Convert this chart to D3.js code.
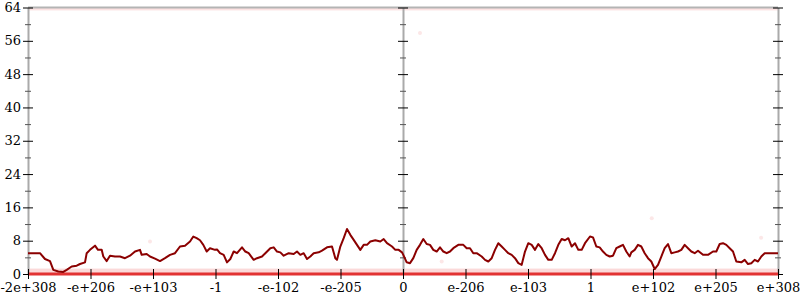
<!DOCTYPE html>
<html lang="en">
<head>
<meta charset="utf-8">
<title>Float histogram</title>
<script src="https://cdn.jsdelivr.net/npm/d3@7"></script>
<style>
  body { margin: 0; background: #fff; }
  svg text { font-family: "DejaVu Serif", serif; font-size: 13px; fill: #000; }
</style>
</head>
<body>
<div id="chart"></div>
<script>
// tick labels along the x axis (13 evenly spaced positions, index 0..12)
var xLabels = ["-2e+308", "-e+206", "-e+103", "-1", "-e-102", "-e-205", "0",
               "e-206", "e-103", "1", "e+102", "e+205", "e+308"];
var yMajor = [0, 8, 16, 24, 32, 40, 48, 56, 64];
var yMinor = [4, 12, 20, 28, 36, 44, 52, 60];

// running count line, [position on the x index scale, value]
var lineData = [
  [0, 5.0], [0.192, 5.0], [0.272, 3.6], [0.352, 3.1], [0.405, 1.0], [0.485, 0.6],
  [0.565, 0.5], [0.619, 1.0], [0.699, 1.8], [0.779, 2.0], [0.832, 2.4], [0.912, 2.8],
  [0.939, 5.0], [0.992, 5.8], [1.072, 6.8], [1.12, 5.8], [1.179, 5.8], [1.205, 4.2],
  [1.259, 3.1], [1.312, 4.4], [1.392, 4.2], [1.472, 4.2], [1.552, 3.8], [1.632, 4.4],
  [1.712, 5.4], [1.792, 5.8], [1.819, 4.6], [1.899, 4.8], [1.952, 4.2], [2.032, 3.7],
  [2.112, 3.1], [2.192, 3.8], [2.272, 4.6], [2.352, 5.0], [2.432, 6.6], [2.512, 6.8],
  [2.592, 7.8], [2.645, 9.0], [2.699, 8.6], [2.752, 8.1], [2.805, 7.0], [2.859, 5.4],
  [2.912, 6.2], [2.992, 5.8], [3.024, 5.9], [3.072, 5.0], [3.131, 4.6], [3.184, 2.8],
  [3.237, 3.6], [3.291, 5.4], [3.344, 5.0], [3.424, 6.4], [3.477, 5.4], [3.531, 5.0],
  [3.611, 3.4], [3.664, 3.8], [3.744, 4.2], [3.797, 5.0], [3.877, 6.2], [3.931, 6.4],
  [3.984, 5.4], [4.037, 5.2], [4.091, 4.4], [4.171, 5.0], [4.251, 4.8], [4.304, 5.4],
  [4.357, 4.6], [4.411, 5.0], [4.464, 3.6], [4.517, 4.2], [4.571, 5.0], [4.651, 5.2],
  [4.704, 5.6], [4.784, 6.4], [4.864, 6.6], [4.917, 3.8], [4.944, 3.4], [4.997, 6.6],
  [5.051, 8.6], [5.104, 10.8], [5.157, 9.4], [5.211, 8.2], [5.264, 7.0], [5.317, 5.8],
  [5.371, 7.0], [5.424, 7.0], [5.477, 7.8], [5.557, 8.1], [5.637, 7.8], [5.691, 8.4],
  [5.744, 7.4], [5.824, 6.6], [5.877, 5.8], [5.931, 5.8], [5.984, 5.2], [6.005, 4.6],
  [6.059, 2.8], [6.112, 2.6], [6.165, 3.8], [6.219, 5.8], [6.272, 7.0], [6.325, 8.4],
  [6.379, 7.2], [6.432, 7.0], [6.485, 5.8], [6.539, 5.4], [6.592, 6.4], [6.645, 5.4],
  [6.699, 5.0], [6.752, 5.4], [6.805, 6.2], [6.885, 7.0], [6.965, 7.0], [7.019, 6.2],
  [7.072, 6.2], [7.125, 5.0], [7.179, 5.0], [7.259, 4.2], [7.312, 3.4], [7.365, 3.0],
  [7.419, 3.8], [7.472, 5.8], [7.525, 7.4], [7.579, 6.6], [7.632, 5.8], [7.685, 5.0],
  [7.739, 4.6], [7.792, 3.8], [7.845, 2.6], [7.899, 2.2], [7.952, 5.4], [8.005, 7.4],
  [8.059, 7.0], [8.112, 5.8], [8.165, 7.2], [8.219, 6.2], [8.272, 4.6], [8.325, 3.4],
  [8.379, 3.4], [8.432, 5.0], [8.485, 7.0], [8.539, 8.4], [8.592, 8.1], [8.645, 8.6],
  [8.699, 6.6], [8.752, 7.4], [8.805, 5.8], [8.859, 5.8], [8.912, 7.4], [8.992, 9.0],
  [9.04, 8.8], [9.093, 6.6], [9.147, 6.4], [9.2, 5.4], [9.253, 4.6], [9.307, 4.2],
  [9.36, 4.4], [9.413, 6.2], [9.467, 6.6], [9.52, 7.0], [9.573, 5.4], [9.627, 4.2],
  [9.653, 5.2], [9.707, 5.8], [9.76, 7.0], [9.813, 6.6], [9.867, 5.0], [9.92, 3.8],
  [9.973, 3.0], [10.027, 1.2], [10.08, 2.2], [10.133, 4.2], [10.187, 6.2], [10.24, 7.2],
  [10.293, 5.0], [10.347, 5.2], [10.4, 5.4], [10.453, 5.8], [10.507, 7.0], [10.56, 6.2],
  [10.613, 5.4], [10.667, 5.0], [10.72, 5.6], [10.8, 4.6], [10.88, 4.6], [10.96, 5.4],
  [11.013, 5.4], [11.067, 7.2], [11.12, 7.4], [11.173, 7.0], [11.227, 6.2], [11.28, 5.4],
  [11.333, 3.0], [11.413, 2.8], [11.467, 3.4], [11.52, 2.4], [11.573, 2.6], [11.627, 3.4],
  [11.68, 3.0], [11.733, 4.2], [11.787, 5.0], [11.867, 5.0], [12, 5.0]
];

// faint stray samples away from the bands
var strayPoints = [[1.952, 7.8], [6.272, 57.9], [6.619, 3.0], [9.98, 13.4], [11.73, 8.7]];
// value ranges of the dense sample bands at the bottom and top
var lowBand = [0, 1.3];
var highBand = [63.3, 64];

var w = 800, h = 300;
var x = d3.scaleLinear().domain([0, 12]).range([28, 778]);
var y = d3.scaleLinear().domain([0, 64]).range([274, 7.5]);

var svg = d3.select("#chart").append("svg")
  .attr("width", w).attr("height", h);

// sample bands
svg.append("rect")
  .attr("x", x(0)).attr("width", x(12) - x(0))
  .attr("y", y(lowBand[1])).attr("height", y(lowBand[0]) - y(lowBand[1]))
  .attr("fill", "#f4a0a0").attr("opacity", 0.4);
svg.append("rect")
  .attr("x", x(0)).attr("width", x(12) - x(0))
  .attr("y", y(highBand[1])).attr("height", y(highBand[0]) - y(highBand[1]))
  .attr("fill", "#f4a0a0").attr("opacity", 0.3);

svg.selectAll(".stray")
  .data(strayPoints)
  .enter()
  .append("circle")
  .attr("class", "stray")
  .attr("cx", function(d){ return x(d[0]); })
  .attr("cy", function(d){ return y(d[1]); })
  .attr("r", 2)
  .attr("fill", "#f4a0a0")
  .attr("opacity", 0.25);

// axes
function yAxis(pos, labels){
  var g = svg.append("g").attr("transform", "translate(" + x(pos) + ",0)");
  var major = g.append("g").call(d3.axisLeft(y).tickValues(yMajor).tickSizeOuter(0)
      .tickFormat(labels ? d3.format("d") : ""));
  major.select(".domain").attr("stroke", "#aaa").attr("stroke-width", 2);
  major.selectAll(".tick line").attr("x1", -5).attr("x2", 5).attr("stroke", "#000");
  major.selectAll(".tick text").attr("x", -7).style("font-size", "13px")
    .style("font-family", "DejaVu Serif");
  var minor = g.append("g").call(d3.axisLeft(y).tickValues(yMinor).tickSizeOuter(0).tickFormat(""));
  minor.select(".domain").remove();
  minor.selectAll(".tick line").attr("x1", -3).attr("x2", 3).attr("stroke", "#555");
}

// top frame line
svg.append("line")
  .attr("x1", x(0)).attr("x2", x(12))
  .attr("y1", y(64)).attr("y2", y(64))
  .attr("stroke", "#b4b4b4").attr("stroke-width", 2);

yAxis(0, true);
yAxis(6, false);
yAxis(12, false);

// zero line, dense samples at 0
svg.append("line")
  .attr("x1", x(0)).attr("x2", x(12))
  .attr("y1", y(0)).attr("y2", y(0))
  .attr("stroke", "#e23232").attr("stroke-width", 3);

var xa = svg.append("g").attr("transform", "translate(0," + y(0) + ")")
  .call(d3.axisBottom(x).tickValues(d3.range(xLabels.length)).tickSizeOuter(0)
    .tickFormat(function(d){ return xLabels[d]; }));
xa.select(".domain").remove();
xa.selectAll(".tick line").attr("y1", -5).attr("y2", 5).attr("stroke", "#000");
xa.selectAll(".tick text").attr("y", 9).style("font-size", "13px")
  .style("font-family", "DejaVu Serif");

// the dark red line
var line = d3.line()
  .x(function(d){ return x(d[0]); })
  .y(function(d){ return y(d[1]); });

svg.append("path")
  .datum(lineData)
  .attr("d", line)
  .attr("fill", "none")
  .attr("stroke", "#8b0000")
  .attr("stroke-width", 2)
  .attr("stroke-linejoin", "round");
</script>
</body>
</html>
